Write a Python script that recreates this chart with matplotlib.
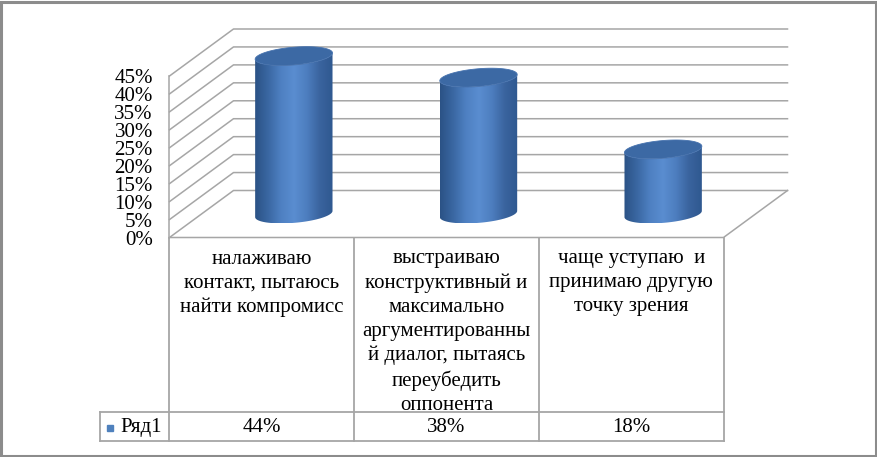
import numpy as np
import matplotlib
matplotlib.use("Agg")
import matplotlib.pyplot as plt
from matplotlib.patches import Polygon, Rectangle
from matplotlib.colors import LinearSegmentedColormap

# ---------------- data ----------------
categories = [
    "налаживаю\nконтакт, пытаюсь\nнайти компромисс",
    "выстраиваю\nконструктивный и\nмаксимально\nаргументированны\nй диалог, пытаясь\nпереубедить\nоппонента",
    "чаще уступаю  и\nпринимаю другую\nточку зрения",
]
values = [0.44, 0.38, 0.18]
value_labels = ["44%", "38%", "18%"]
series_name = "Ряд1"
y_ticks = [0.00, 0.05, 0.10, 0.15, 0.20, 0.25, 0.30, 0.35, 0.40, 0.45]
y_tick_labels = ["0%", "5%", "10%", "15%", "20%", "25%", "30%", "35%", "40%", "45%"]

# ---------------- style ----------------
FONT = "Liberation Serif"
FS = 15
plt.rcParams["font.family"] = [FONT, "DejaVu Serif"]
GRID = "#A6A6A6"
SIDE_COLORS = ["#2B5285", "#3A67A2", "#4E80C2", "#5A8DD0", "#4D7EBF", "#3A649E", "#2F5890"]
TOP_COLOR = "#3C69A4"
MARKER_COLOR = "#4F81BD"

W, H = 878, 457
fig = plt.figure(figsize=(W / 100, H / 100), dpi=100)
fig.patch.set_facecolor("white")


def px_rect(x0, ytop, x1, ybot):
    return [x0 / W, 1 - ybot / H, (x1 - x0) / W, (ybot - ytop) / H]


# front plane of the 3-D box
FX0, FX1, FYT, FYB = 169.5, 723.5, 76.0, 237.5
ax = fig.add_axes(px_rect(FX0, FYT, FX1, FYB))
n = len(categories)
vmax = y_ticks[-1]
ax.set_xlim(0, n)
ax.set_ylim(0, vmax)
for s in ax.spines.values():
    s.set_visible(False)
ax.set_xticks([])
ax.set_yticks(y_ticks)
ax.set_yticklabels(y_tick_labels, fontsize=FS, family=FONT)
ax.tick_params(axis="y", length=0, pad=12)
ax.patch.set_alpha(0)

# oblique depth vector (full depth) in data units
ppc = (FX1 - FX0) / n
ppv = (FYB - FYT) / vmax
DX = 64 / ppc
DY = 47 / ppv


def proj(x, y, d):
    return x + d * DX, y + d * DY


# walls & floor
for v in y_ticks:
    pts = [proj(0, v, 0), proj(0, v, 1), proj(n, v, 1)]
    ax.plot([p[0] for p in pts], [p[1] for p in pts], color=GRID, lw=1.1, clip_on=False, zorder=1)
ax.plot([0, 0], [0, vmax], color=GRID, lw=1.1, clip_on=False, zorder=1)
pts = [proj(0, 0, 0), proj(n, 0, 0), proj(n, 0, 1)]
ax.plot([p[0] for p in pts], [p[1] for p in pts], color=GRID, lw=1.1, clip_on=False, zorder=1)

# cylinders
cmap = LinearSegmentedColormap.from_list("cyl", SIDE_COLORS)
rx = 36.5 / ppc
rd = 0.2
t_r = np.arctan2(rd * DX, rx)
ts = np.linspace(t_r - np.pi, t_r, 120)
tt = np.linspace(0, 2 * np.pi, 200)


def ring(cx, y, t):
    x = cx + 0.5 * DX + rx * np.cos(t) + rd * np.sin(t) * DX
    yy = y + 0.5 * DY + rd * np.sin(t) * DY
    return x, yy


for i, v in enumerate(values):
    cx = i + 0.5
    bx, by = ring(cx, 0, ts)
    tx, ty = ring(cx, v, ts)
    side = np.column_stack([np.concatenate([bx, tx[::-1]]), np.concatenate([by, ty[::-1]])])
    patch = Polygon(side, closed=True, facecolor="none", edgecolor="none", zorder=3, clip_on=False)
    ax.add_patch(patch)
    grad = np.linspace(0, 1, 256)[None, :]
    im = ax.imshow(grad, cmap=cmap, aspect="auto", interpolation="bilinear",
                   extent=[bx.min(), bx.max(), by.min(), ty.max()], zorder=3, origin="lower")
    im.set_clip_path(patch)
    im.set_clip_box(fig.bbox)
    ex, ey = ring(cx, v, tt)
    top = Polygon(np.column_stack([ex, ey]), closed=True, facecolor=TOP_COLOR,
                  edgecolor="#4672AE", lw=0.6, zorder=4, clip_on=False)
    ax.add_patch(top)

ax.set_xlim(0, n)
ax.set_ylim(0, vmax)

# ---------------- data table ----------------
TX0, TYT, TYB, RSEP = 100.5, 237.5, 441.0, 412.0
tax = fig.add_axes(px_rect(FX0, TYT, FX1, TYB))
tax.set_xlim(0, n)
tax.set_ylim(TYB - TYT, 0)
tax.axis("off")
lx = (TX0 - FX0) / ppc
r = RSEP - TYT
hh = TYB - TYT
TL = dict(color=GRID, lw=1.3, clip_on=False)
for k in range(n + 1):
    tax.plot([k, k], [0, hh], **TL)
tax.plot([lx, n], [r, r], **TL)
tax.plot([lx, n], [hh, hh], **TL)
tax.plot([lx, lx], [r, hh], **TL)

for i, (c, vl) in enumerate(zip(categories, value_labels)):
    tax.text(i + 0.5, 12, c, ha="center", va="top", fontsize=FS, family=FONT,
             linespacing=1.35, clip_on=False)
    tax.text(i + 0.5, (r + hh) / 2 + 1, vl, ha="center", va="center", fontsize=FS, family=FONT,
             clip_on=False)

tax.plot([lx + 10 / ppc], [(r + hh) / 2 + 1], marker="s", ms=5, color=MARKER_COLOR,
         clip_on=False, ls="none")
tax.text(lx + 20 / ppc, (r + hh) / 2 + 1, series_name, ha="left", va="center", fontsize=FS,
         family=FONT, clip_on=False)

# outer frame
fig.add_artist(Rectangle((1.5 / W, 1.5 / H), (W - 3) / W, (H - 3) / H, transform=fig.transFigure,
                         fill=False, edgecolor="#8C8C8C", lw=2.2))

fig.savefig("out.png", dpi=100, facecolor="white")
